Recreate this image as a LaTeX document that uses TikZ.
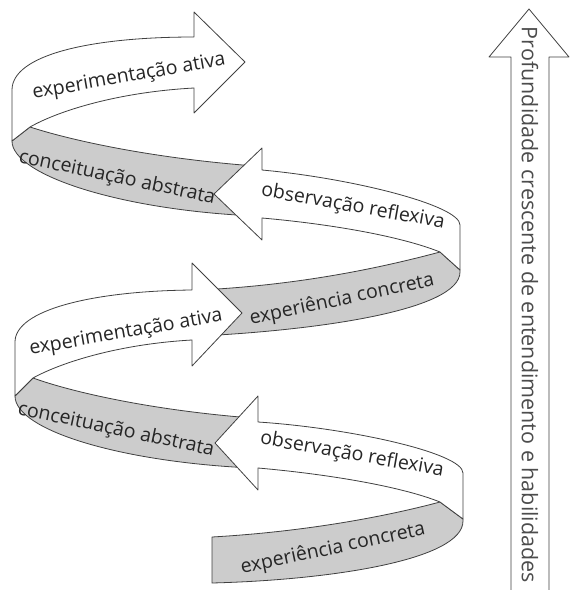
\documentclass[tikz,border=0pt]{standalone}
\usepackage{fontspec}
\setmainfont{Open Sans}
\definecolor{ribbongray}{gray}{0.8}
\definecolor{edgegray}{gray}{0.25}
\tikzset{
  band/.style={draw=edgegray, line width=0.8pt, line join=round},
  whiteband/.style={band, fill=white},
  grayband/.style={band, fill=ribbongray},
  bandtext/.style={font=\fontsize{19.5}{19.5}\selectfont, text=black!85, inner sep=0pt},
  sidetext/.style={font=\fontsize{21.5}{21.5}\selectfont, text=black!70, inner sep=0pt},
}
\begin{document}
\begin{tikzpicture}[x=1pt,y=-1pt]
  \useasboundingbox (0,0) rectangle (571,590);

  % back side of the ribbon
  \filldraw[grayband] (30,127) .. controls (70,140) and (150,158) .. (255,166) -- (255,216)
    .. controls (120,210) and (12,175) .. (12,141) -- cycle;
  \filldraw[grayband] (440,252) .. controls (380,268) and (300,285) .. (200,290) -- (200,336)
    .. controls (320,330) and (460,310) .. (460,272) -- (460,270) -- cycle;
  \filldraw[grayband] (33,378) .. controls (72,392) and (150,410) .. (252,418) -- (252,468)
    .. controls (120,462) and (15,430) .. (15,396) -- cycle;
  \filldraw[grayband] (440,502) .. controls (380,518) and (300,532) .. (212,537) -- (212,583)
    .. controls (330,580) and (463,560) .. (463,521) -- (463,519) -- cycle;

  % front side with the arrows
  \filldraw[whiteband] (194,37) -- (194,12) -- (245,62) -- (194,113) -- (194,88)
    .. controls (120,92) and (60,110) .. (30,127) -- (12,141) -- (12,90)
    .. controls (12,55) and (90,37) .. (194,37) -- cycle;
  \filldraw[whiteband] (262,170) -- (262,148) -- (214,194) -- (262,240) -- (262,218)
    .. controls (330,224) and (400,236) .. (440,252) -- (460,270) -- (460,225)
    .. controls (460,205) and (350,178) .. (262,170) -- cycle;
  \filldraw[whiteband] (192,290) -- (192,263) -- (242,313) -- (192,366) -- (192,340)
    .. controls (120,344) and (62,362) .. (33,378) -- (15,396) -- (15,342)
    .. controls (15,310) and (92,291) .. (192,290) -- cycle;
  \filldraw[whiteband] (258,422) -- (258,396) -- (215,443) -- (258,490) -- (258,468)
    .. controls (326,474) and (400,486) .. (440,502) -- (463,519) -- (463,473)
    .. controls (463,453) and (350,428) .. (258,422) -- cycle;

  % depth arrow
  \filldraw[whiteband] (511,590) -- (511,57) -- (489,57) -- (529,9) -- (569,57) -- (549,57) -- (549,590);

  \node[bandtext, rotate=10] (exp1) at (129,77) {experimentação ativa};
  \node[bandtext, rotate=-12] (con1) at (117,178) {conceituação abstrata};
  \node[bandtext, rotate=-10] (obs1) at (353,207) {observação reflexiva};
  \node[bandtext, rotate=12] (ecr1) at (342,300) {experiência concreta};
  \node[bandtext, rotate=10] (exp2) at (126,333) {experimentação ativa};
  \node[bandtext, rotate=-12] (con2) at (116,430) {conceituação abstrata};
  \node[bandtext, rotate=-10] (obs2) at (352,455) {observação reflexiva};
  \node[bandtext, rotate=12] (ecr2) at (333,549) {experiência concreta};
  \node[sidetext, rotate=-90] (depth) at (530,305) {Profundidade crescente de entendimento e habilidades};
\end{tikzpicture}
\end{document}
